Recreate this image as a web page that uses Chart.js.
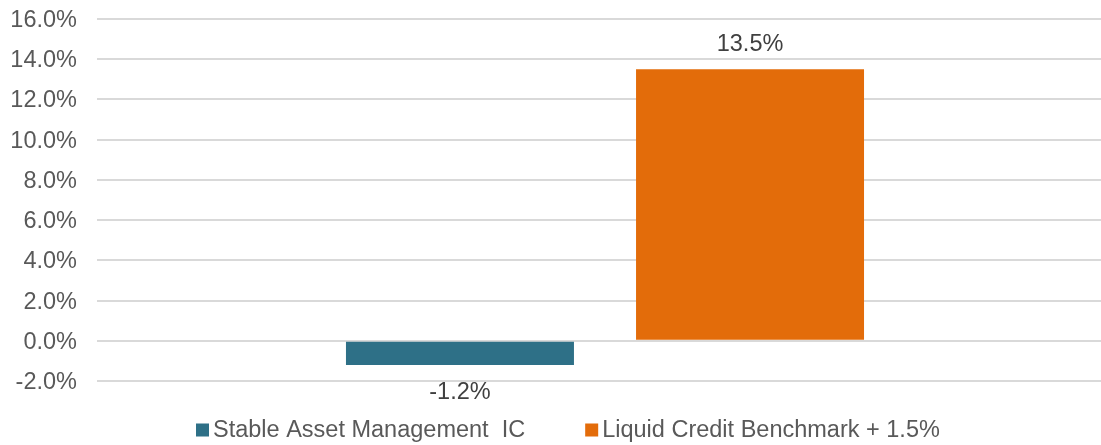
<!DOCTYPE html>
<html>
<head>
<meta charset="utf-8">
<script src="https://cdn.jsdelivr.net/npm/chart.js@4"></script>
<style>
  html, body { margin: 0; padding: 0; overflow: hidden; background: #fff; }
  canvas { display: block; }
</style>
</head>
<body>
<canvas id="chart" width="1113" height="445"></canvas>
<script>
// data
const categories = [''];
const seriesNames = ['Stable Asset Management  IC', 'Liquid Credit Benchmark + 1.5%'];
const stableValues = [-1.2];
const benchmarkValues = [13.5];
const yTicks = [-2, 0, 2, 4, 6, 8, 10, 12, 14, 16];
const seriesColors = ['#2e7087', '#e36c0a'];

const FONT = '"Liberation Sans", Arial, sans-serif';
const pct = (v) => v.toFixed(1) + '%';

// value labels above / below each bar
const barLabels = {
  id: 'barLabels',
  afterDatasetsDraw(chart) {
    const ctx = chart.ctx;
    ctx.save();
    ctx.font = '23.5px ' + FONT;
    ctx.fillStyle = '#404040';
    ctx.textAlign = 'center';
    ctx.textBaseline = 'middle';
    chart.data.datasets.forEach((ds, i) => {
      chart.getDatasetMeta(i).data.forEach((bar, j) => {
        const v = ds.data[j];
        const y = v >= 0 ? bar.y - 24.5 : bar.y + 27.5;
        ctx.fillText(pct(v), bar.x, y);
      });
    });
    ctx.restore();
  }
};

// legend under the plot, small squares close to the text
const bottomLegend = {
  id: 'bottomLegend',
  afterDraw(chart) {
    const ctx = chart.ctx;
    const box = 13;
    const y = 430;
    let x = 196;
    ctx.save();
    ctx.font = '23.5px ' + FONT;
    ctx.textBaseline = 'middle';
    chart.data.datasets.forEach(ds => {
      ctx.fillStyle = ds.backgroundColor;
      ctx.fillRect(x, y - box / 2, box, box);
      x += box + 4;
      ctx.fillStyle = '#595959';
      ctx.fillText(ds.label, x, y + 1);
      x += ctx.measureText(ds.label).width + 60;
    });
    ctx.restore();
  }
};

new Chart(document.getElementById('chart'), {
  type: 'bar',
  data: {
    labels: categories,
    datasets: [
      { label: seriesNames[0], data: stableValues, backgroundColor: seriesColors[0] },
      { label: seriesNames[1], data: benchmarkValues, backgroundColor: seriesColors[1] }
    ]
  },
  options: {
    responsive: false,
    animation: false,
    devicePixelRatio: 1,
    categoryPercentage: 0.571,
    barPercentage: 0.786,
    layout: { padding: { top: 19, bottom: 64, left: 0, right: 0 } },
    plugins: {
      legend: { display: false },
      tooltip: { enabled: false }
    },
    scales: {
      x: { display: false },
      y: {
        min: yTicks[0],
        max: yTicks[yTicks.length - 1],
        afterBuildTicks: (scale) => { scale.ticks = yTicks.map(v => ({ value: v })); },
        afterFit: (scale) => { scale.width = 97; },
        border: { display: false },
        grid: { color: '#d9d9d9', lineWidth: 2, drawTicks: true, tickLength: 20, tickColor: 'rgba(0,0,0,0)' },
        ticks: {
          padding: 0,
          labelOffset: 1.5,
          color: '#595959',
          font: { family: FONT, size: 23.5 },
          callback: (v) => pct(v)
        }
      }
    }
  },
  plugins: [barLabels, bottomLegend]
});
</script>
</body>
</html>
